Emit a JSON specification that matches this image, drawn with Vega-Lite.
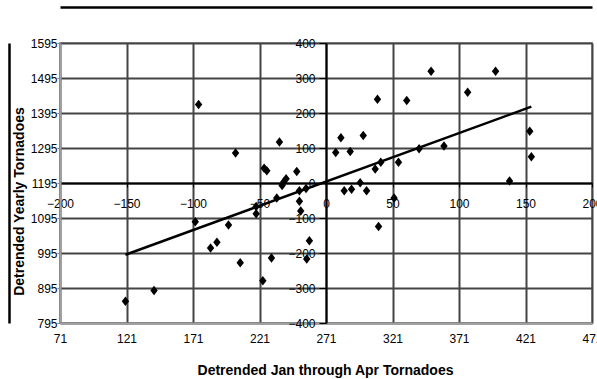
{
  "$schema": "https://vega.github.io/schema/vega-lite/v6.json",
  "width": 532,
  "height": 280,
  "autosize": {"type": "none"},
  "padding": {"left": 60, "top": 43, "right": 5, "bottom": 56},
  "background": "white",
  "config": {
    "view": {"stroke": "#a0a0a0", "strokeWidth": 2},
    "font": "Liberation Sans",
    "axis": {
      "labelFont": "Liberation Sans",
      "labelFontSize": 12,
      "labelColor": "#000",
      "titleFont": "Liberation Sans",
      "titleFontSize": 14,
      "titleFontWeight": "bold",
      "titleColor": "#000",
      "labelOverlap": false,
      "labelFlush": false
    }
  },
  "datasets": {
    "pts": [
      {"x": 79, "y": 319}, {"x": 127.5, "y": 319}, {"x": 106.5, "y": 259}, {"x": 38.7, "y": 239},
      {"x": 60.7, "y": 236}, {"x": 153.2, "y": 148}, {"x": 154.4, "y": 75}, {"x": 138, "y": 6},
      {"x": 88.7, "y": 106}, {"x": 70, "y": 98}, {"x": 54.5, "y": 59}, {"x": 41.2, "y": 59},
      {"x": 37, "y": 40}, {"x": 28, "y": 136}, {"x": 11.2, "y": 129}, {"x": 18.2, "y": 90},
      {"x": 7.3, "y": 87}, {"x": 13.7, "y": -22}, {"x": 19.2, "y": -18}, {"x": 25.7, "y": 1},
      {"x": 30.5, "y": -22}, {"x": 51.2, "y": -43}, {"x": 39.5, "y": -124}, {"x": -22, "y": 33},
      {"x": -35, "y": 117}, {"x": -68, "y": 86}, {"x": -46.5, "y": 42}, {"x": -44.5, "y": 35},
      {"x": -95.8, "y": 224}, {"x": -30, "y": 12}, {"x": -31.8, "y": 3}, {"x": -33, "y": -7},
      {"x": -20, "y": -22}, {"x": -15, "y": -16}, {"x": -37, "y": -43}, {"x": -20, "y": -52},
      {"x": -19, "y": -80}, {"x": -52.5, "y": -67}, {"x": -52.5, "y": -88}, {"x": -73.3, "y": -120},
      {"x": -12.5, "y": -165}, {"x": -41, "y": -214}, {"x": -14.5, "y": -217}, {"x": -98.3, "y": -111},
      {"x": -86.8, "y": -186}, {"x": -82, "y": -169}, {"x": -64.5, "y": -228}, {"x": -47.5, "y": -279},
      {"x": -129.3, "y": -307}, {"x": -150.8, "y": -338}
    ],
    "trend": [
      {"x": -150.8, "y": -205},
      {"x": 154.4, "y": 218}
    ]
  },
  "layer": [
    {
      "data": {"name": "trend"},
      "mark": {"type": "line", "opacity": 0},
      "encoding": {
        "x": {
          "field": "x", "type": "quantitative",
          "scale": {"domain": [-200, 200], "nice": false, "zero": false},
          "axis": {"orient": "top", "offset": 36, "domain": true, "domainColor": "#000", "domainWidth": 2.5, "labels": false, "ticks": false, "grid": false, "title": null}
        },
        "y": {
          "field": "y", "type": "quantitative",
          "scale": {"domain": [-400, 400], "nice": false, "zero": false},
          "axis": {"orient": "left", "offset": 51, "domain": true, "domainColor": "#000", "domainWidth": 2.5, "labels": false, "ticks": false, "grid": false, "title": null}
        }
      }
    },
    {
      "data": {"name": "pts"},
      "mark": {"type": "point", "shape": "M0,-1L0.78,0L0,1L-0.78,0Z", "filled": true, "color": "#000", "size": 90, "opacity": 1},
      "encoding": {
        "x": {
          "field": "x", "type": "quantitative",
          "axis": {
            "orient": "bottom",
            "values": [-200, -150, -100, -50, 0, 50, 100, 150, 200],
            "labelExpr": "datum.value + 271",
            "domain": true, "domainColor": "#a0a0a0", "domainWidth": 2,
            "ticks": false, "tickSize": 0,
            "labelPadding": 10,
            "grid": false,
            "title": "Detrended Jan through Apr Tornadoes",
            "titleX": 265,
            "titleY": 47,
            "titleBaseline": "middle"
          }
        },
        "y": {
          "field": "y", "type": "quantitative",
          "axis": {
            "orient": "left",
            "values": [-400, -300, -200, -100, 0, 100, 200, 300, 400],
            "labelExpr": "datum.value + 1195",
            "domain": true, "domainColor": "#a0a0a0", "domainWidth": 2,
            "ticks": true, "tickSize": 3, "tickColor": "#808080",
            "labelPadding": 0,
            "grid": false,
            "title": "Detrended Yearly Tornadoes",
            "titleX": -41,
            "titleY": 158,
            "titleAngle": 270,
            "titleBaseline": "middle"
          }
        }
      }
    },
    {
      "data": {"name": "trend"},
      "mark": {"type": "line", "color": "#000", "strokeWidth": 2.5},
      "encoding": {
        "x": {
          "field": "x", "type": "quantitative",
          "axis": {
            "orient": "bottom",
            "offset": -140,
            "values": [-200, -150, -100, -50, 0, 50, 100, 150, 200],
            "domain": true, "domainColor": "#000", "domainWidth": 2,
            "ticks": true, "tickSize": 4, "tickColor": "#000", "tickWidth": 1,
            "labelPadding": 11,
            "grid": true, "gridColor": "#444", "gridWidth": 2,
            "title": null
          }
        },
        "y": {
          "field": "y", "type": "quantitative",
          "axis": {
            "orient": "left",
            "offset": -266,
            "values": [-400, -300, -200, -100, 0, 100, 200, 300, 400],
            "domain": true, "domainColor": "#000", "domainWidth": 2,
            "ticks": true, "tickSize": 7, "tickColor": "#000", "tickWidth": 1,
            "labelPadding": 4,
            "grid": true, "gridColor": "#444", "gridWidth": 2,
            "title": null
          }
        }
      }
    }
  ],
  "resolve": {"axis": {"x": "independent", "y": "independent"}}
}
